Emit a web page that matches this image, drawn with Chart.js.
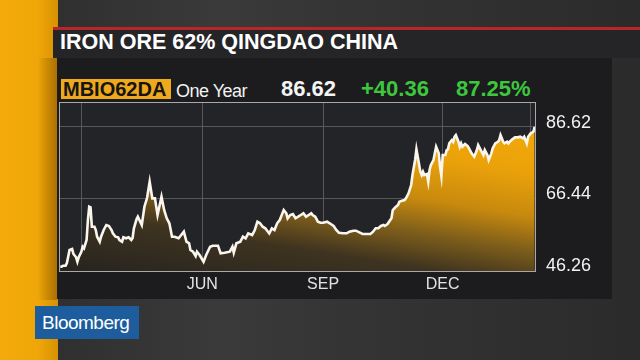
<!DOCTYPE html>
<html>
<head>
<meta charset="utf-8">
<title>Iron Ore 62% Qingdao China</title>
<script src="https://cdn.jsdelivr.net/npm/chart.js"></script>
<style>
  html, body { margin: 0; padding: 0; }
  body {
    width: 640px; height: 360px; overflow: hidden; position: relative;
    background: linear-gradient(90deg, #2c2c2c 0%, #3a3a3a 35%, #343434 55%, #2b2b2b 100%);
    font-family: "Liberation Sans", Arial, sans-serif;
  }
  .abs { position: absolute; }
  #bar { left: 0; top: 0; width: 58px; height: 360px; background-color: #eea606;
    background-image: linear-gradient(90deg, #f3aa0a 0px, #efa608 38px, #d59203 58px); }
  #barshade { left: 38px; top: 58px; width: 19px; height: 242px;
    background: linear-gradient(90deg, rgba(120,70,0,0) 0%, rgba(120,70,0,0.45) 100%); }
  #redline { left: 53px; top: 27px; width: 587px; height: 3px; background: #b8262a; }
  #titlebar { left: 53px; top: 30px; width: 587px; height: 28px; background: #252528; }
  #title { left: 60px; top: 32px; color: #fff; font-weight: bold; font-size: 21.5px;
    line-height: 21.5px; white-space: nowrap; }
  #panel { left: 57px; top: 58px; width: 555px; height: 241px; background: #1c1c1e; }
  #ticker { left: 61px; top: 79px; width: 110px; height: 20px; background: #f0a81c;
    color: #151515; font-weight: bold; font-size: 20px; line-height: 20px;
    padding-left: 2px; box-sizing: border-box; white-space: nowrap; }
  #period { left: 176px; top: 82px; color: #f2f2f2; font-size: 18px; line-height: 18px;
    letter-spacing: -0.5px; white-space: nowrap; }
  .num { top: 78px; font-size: 22px; line-height: 22px; font-weight: bold; white-space: nowrap; }
  #last { left: 281px; color: #f4f4f4; }
  #chg { left: 361px; color: #3ec73e; }
  #pct { left: 456px; color: #3ec73e; }
  #chartbox { left: 57px; top: 98px; width: 555px; height: 202px; }
  #logo { left: 35px; top: 306px; width: 104px; height: 33px; background: #1d5d9e;
    color: #fff; font-size: 19px; line-height: 33px; letter-spacing: -0.5px;
    box-sizing: border-box; padding-left: 7px; white-space: nowrap; }
</style>
</head>
<body>
<div id="bar" class="abs"></div>
<div id="barshade" class="abs"></div>
<div id="redline" class="abs"></div>
<div id="titlebar" class="abs"></div>
<div id="title" class="abs">IRON ORE 62% QINGDAO CHINA</div>
<div id="panel" class="abs"></div>
<div id="ticker" class="abs">MBIO62DA</div>
<div id="period" class="abs">One Year</div>
<div id="last" class="abs num">86.62</div>
<div id="chg" class="abs num">+40.36</div>
<div id="pct" class="abs num">87.25%</div>
<div id="chartbox" class="abs"><canvas id="chart"></canvas></div>
<div id="logo" class="abs">Bloomberg</div>

<script>
// days counted from 1 March, prices in USD/dmt
const days = [-16, -15, -14, -12, -11, -10, -9, -7, -6, -4, -3, -2, 0, 1, 2, 3, 4, 5, 6, 7,
  8, 10, 11, 12, 14, 15, 17, 19, 21, 23, 24, 26, 28, 29, 31, 32, 34, 36, 38, 39,
  40, 42, 43, 46, 48, 50, 52, 54, 56, 58, 61, 63, 65, 67, 69, 71, 74, 76, 78, 80,
  82, 83, 85, 87, 88, 90, 93, 95, 98, 100, 104, 106, 109, 113, 115, 116, 118, 121, 123, 125,
  127, 130, 132, 134, 136, 138, 140, 142, 143, 145, 147, 149, 151, 152, 154, 156, 157, 159, 161, 163,
  165, 167, 169, 171, 173, 175, 176, 178, 180, 182, 184, 187, 189, 192, 194, 196, 199, 202, 204, 207,
  209, 212, 214, 217, 220, 222, 224, 226, 228, 230, 231, 233, 236, 237, 239, 241, 242, 244, 246, 247,
  249, 251, 252, 254, 255, 256, 258, 259, 260, 261, 263, 264, 265, 266, 268, 269, 270, 272, 273, 274,
  275, 277, 278, 279, 280, 282, 283, 284, 285, 287, 288, 289, 290, 292, 294, 295, 297, 299, 301, 302,
  304, 306, 307, 309, 310, 312, 313, 315, 317, 318, 319, 320, 321, 322, 324, 325, 326, 328, 330, 332,
  334, 336, 337, 339, 340, 342, 344, 345];

const prices = [47.17, 47.17, 47.45, 47.45, 48.21, 49.99, 51.87, 52.16, 50.75, 49.82, 48.58, 49.82, 51.39, 52.80, 52.35, 53.56, 54.69, 60.33, 64.08, 63.91,
  58.44, 58.44, 57.51, 55.62, 54.21, 55.62, 57.51, 58.92, 58.64, 57.51, 56.58, 55.62, 55.45, 54.69, 54.21, 55.45, 55.17, 55.45, 54.69, 55.26,
  57.99, 60.53, 61.26, 58.92, 64.08, 66.53, 71.12, 66.44, 66.44, 61.74, 66.89, 63.15, 60.81, 59.40, 55.62, 55.62, 55.17, 56.10, 57.03, 54.21,
  53.76, 51.87, 51.39, 50.18, 51.39, 50.47, 48.58, 50.47, 52.80, 53.09, 53.09, 50.94, 51.11, 51.39, 52.80, 51.11, 53.76, 54.21, 55.62, 55.17,
  56.58, 56.10, 57.51, 59.85, 59.40, 58.44, 57.99, 57.03, 56.58, 57.99, 57.51, 59.40, 60.33, 61.26, 63.15, 62.22, 60.81, 61.74, 62.02, 60.81,
  61.26, 61.74, 62.22, 61.26, 61.74, 62.22, 61.74, 61.26, 59.85, 59.57, 59.57, 59.85, 59.40, 58.64, 57.51, 56.75, 56.58, 56.58, 57.03, 57.31,
  57.31, 56.75, 56.38, 56.38, 56.38, 57.03, 57.99, 57.99, 58.64, 58.92, 58.64, 59.20, 60.81, 63.15, 63.91, 64.56, 65.49, 65.77, 65.96, 66.44,
  67.85, 70.19, 73.01, 77.24, 80.25, 78.17, 73.94, 73.01, 73.94, 73.01, 73.29, 71.12, 74.42, 75.83, 77.24, 79.12, 80.98, 79.12, 75.35, 72.73,
  78.65, 78.65, 80.05, 80.25, 81.94, 82.87, 82.39, 83.80, 84.28, 82.39, 80.98, 81.94, 80.98, 81.74, 81.18, 80.53, 79.12, 78.17, 80.05, 81.46,
  80.05, 78.65, 80.05, 78.65, 77.24, 79.12, 80.53, 81.94, 82.39, 82.87, 84.28, 83.35, 82.39, 81.94, 82.39, 81.94, 82.39, 83.07, 83.63, 83.63,
  83.80, 83.35, 83.80, 81.94, 83.80, 84.76, 85.21, 86.62];

const xTickDays = [0, 92, 184, 275, 342];
const xTickLabels = ["", "JUN", "SEP", "DEC", ""];
const yTickValues = [46.26, 66.44, 86.62];

const gridColor = "#58585c";

const frame = {
  id: "frame",
  beforeDraw(chart) {
    const { ctx, chartArea: a } = chart;
    ctx.save();
    ctx.fillStyle = "#232428";
    ctx.fillRect(a.left, a.top, a.right - a.left, a.bottom - a.top);
    ctx.restore();
  },
  afterDraw(chart) {
    const { ctx, chartArea: a } = chart;
    ctx.save();
    ctx.strokeStyle = "#a9a9ab";
    ctx.lineWidth = 1;
    ctx.strokeRect(a.left + 0.5, a.top + 0.5, a.right - a.left - 1, a.bottom - a.top);
    ctx.restore();
  }
};

// fill brightens upward and slightly to the right
function areaFill(context) {
  const chart = context.chart;
  const a = chart.chartArea;
  if (!a) return null;
  const h = (a.bottom - a.top) * 1.42;
  const g = chart.ctx.createLinearGradient(a.left, a.bottom, a.left + 0.16 * h, a.bottom - h);
  g.addColorStop(0, "#26231f");
  g.addColorStop(0.245, "#3e3320");
  g.addColorStop(0.39, "#7e5e1a");
  g.addColorStop(0.53, "#c88a0e");
  g.addColorStop(0.71, "#eba20a");
  g.addColorStop(1, "#f7ad08");
  return g;
}

function noPad(s) {
  s.paddingTop = 0;
  s.paddingBottom = 0;
  s.paddingLeft = 0;
  s.paddingRight = 0;
}

new Chart(document.getElementById("chart"), {
  type: "line",
  data: {
    datasets: [{
      data: days.map((d, i) => ({ x: d, y: prices[i] })),
      borderColor: "#faf6ee",
      borderWidth: 2.6,
      backgroundColor: areaFill,
      fill: "start",
      pointRadius: 0,
      tension: 0
    }]
  },
  options: {
    responsive: true,
    maintainAspectRatio: false,
    animation: false,
    layout: { padding: { left: 2, top: 4, right: 0, bottom: 0 } },
    plugins: { legend: { display: false }, tooltip: { enabled: false } },
    scales: {
      x: {
        type: "linear",
        min: -17,
        max: 346,
        afterBuildTicks: (s) => { s.ticks = xTickDays.map((v) => ({ value: v })); },
        afterFit: (s) => { s.height = 29; noPad(s); },
        grid: { color: gridColor, drawTicks: false },
        border: { display: false },
        ticks: {
          autoSkip: false,
          maxRotation: 0,
          padding: 4,
          color: "#e2e2e2",
          font: { family: "Liberation Sans", size: 16 },
          callback: (v) => xTickLabels[xTickDays.indexOf(v)]
        }
      },
      y: {
        position: "right",
        min: 45.95,
        max: 93.6,
        afterBuildTicks: (s) => { s.ticks = yTickValues.map((v) => ({ value: v })); },
        afterFit: (s) => { s.width = 76; noPad(s); },
        grid: { color: gridColor, drawTicks: false },
        border: { display: false },
        ticks: {
          padding: 10,
          labelOffset: -4,
          color: "#f2f2f2",
          font: { family: "Liberation Sans", size: 18 },
          callback: (v) => v.toFixed(2)
        }
      }
    }
  },
  plugins: [frame]
});
</script>
</body>
</html>
